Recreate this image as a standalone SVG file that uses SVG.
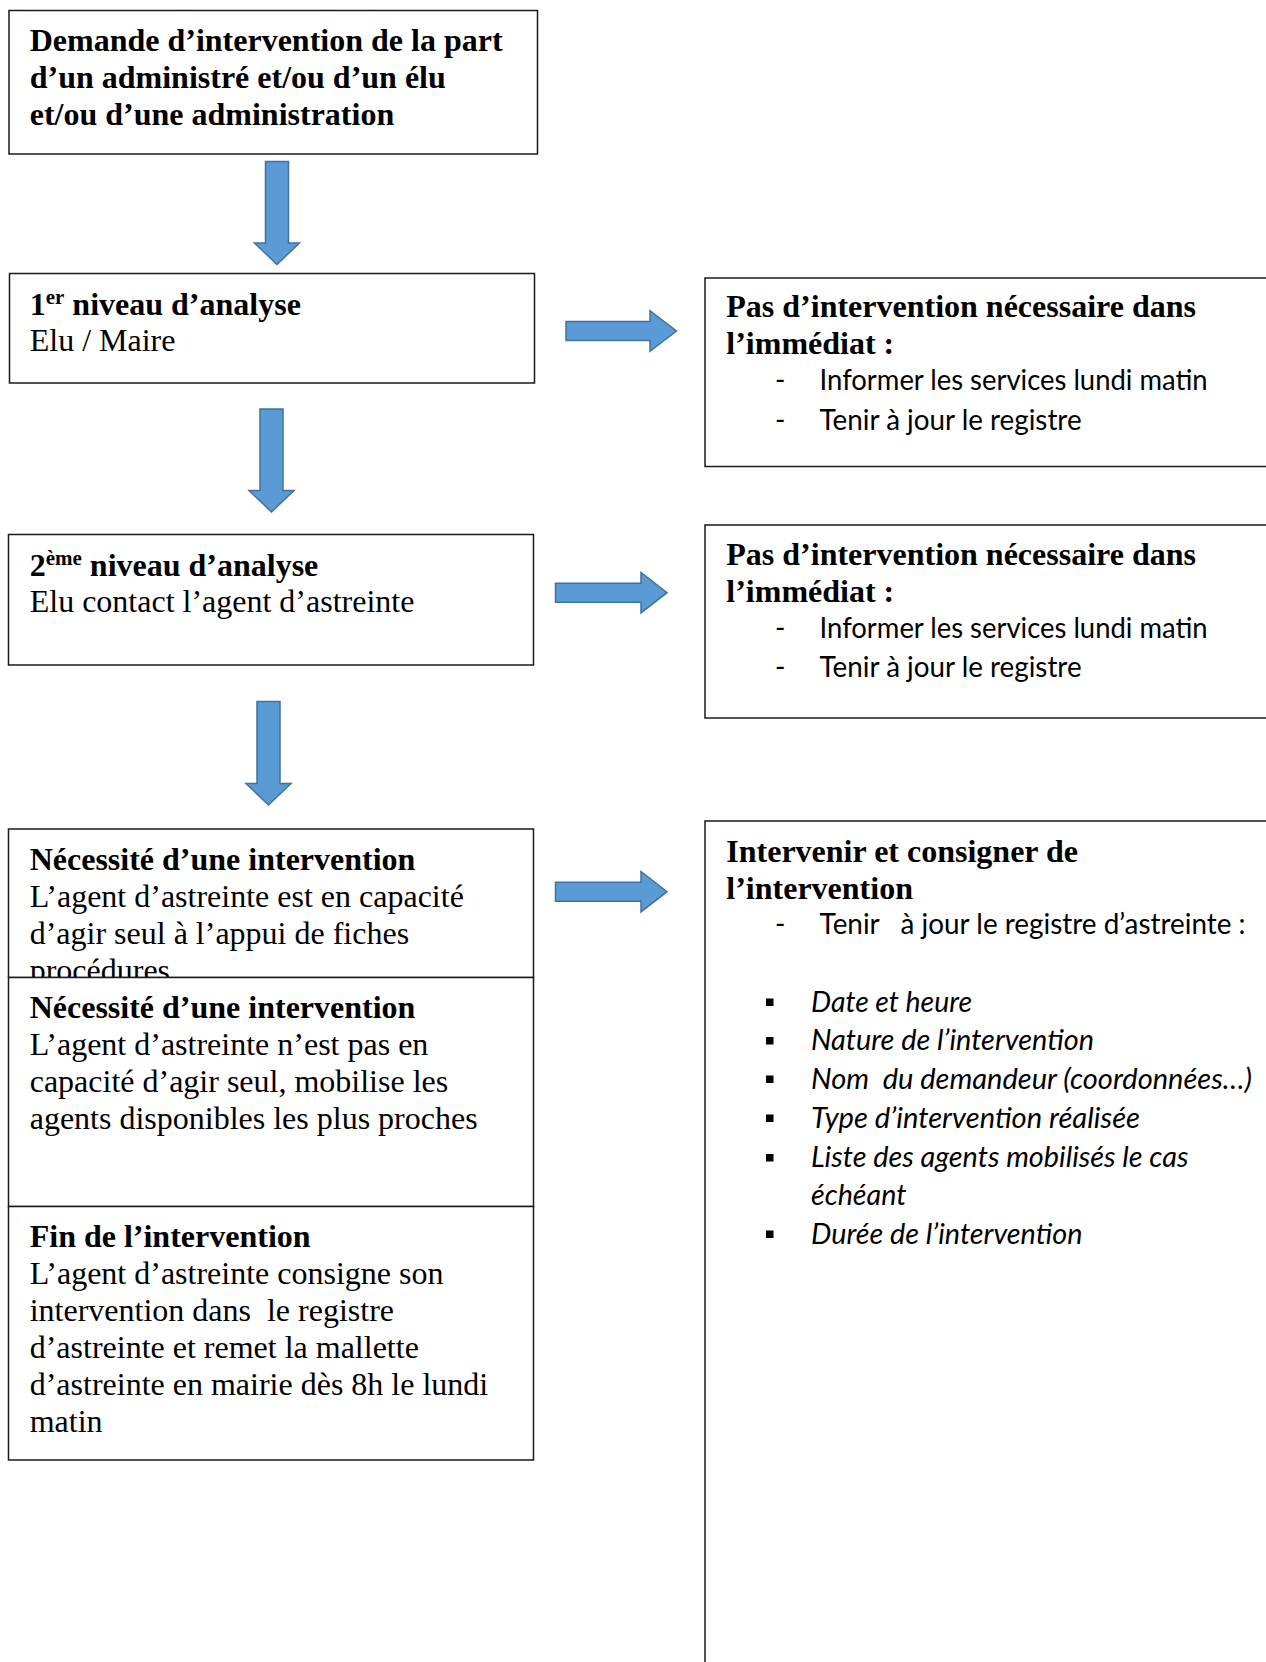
<svg xmlns="http://www.w3.org/2000/svg" width="1266" height="1662" viewBox="0 0 1266 1662">
<style>
.box{fill:#fff;stroke:#1a1a1a;stroke-width:1.5}
.arr{fill:#5B9BD5;stroke:#41719C;stroke-width:1.5;stroke-linejoin:miter}
.t{font-family:"Liberation Serif","Times New Roman",serif;font-size:32px;fill:#000}
.b{font-weight:bold}
.s{font-family:Lato,"Open Sans",sans-serif;font-size:28px;fill:#000}
.i{font-style:italic}
.sq{fill:#000}
</style>
<rect width="1266" height="1662" fill="#fff"/>
<g id="connectors">
<path class="arr" d="M265.5,161.5 H288.5 V243 H299.5 L277,264.5 L254.5,243 H265.5 Z"/>
<path class="arr" d="M260,409 H283 V490.5 H294 L271.5,512 L249,490.5 H260 Z"/>
<path class="arr" d="M257,701.5 H280 V783.5 H291 L268.5,805 L246,783.5 H257 Z"/>
<path class="arr" d="M566,321.5 H650 V310.7 L676.5,331 L650,351.3 V340.5 H566 Z"/>
<path class="arr" d="M555.5,583.2 H641 V572.5 L667,592.7 L641,612.9 V602.2 H555.5 Z"/>
<path class="arr" d="M555.5,882.2 H641 V871.5 L667,891.7 L641,911.9 V901.2 H555.5 Z"/>
</g>
<g id="n1">
<rect class="box" x="9" y="10.5" width="528.5" height="143.5"/>
<text class="t b" x="29.7" y="50.5">Demande d’intervention de la part</text>
<text class="t b" x="29.7" y="87.5">d’un administré et/ou d’un élu</text>
<text class="t b" x="29.7" y="124.5">et/ou d’une administration</text>
</g>
<g id="n2">
<rect class="box" x="9.5" y="273.5" width="525" height="109.5"/>
<text class="t b" x="29.7" y="314.5">1<tspan font-size="21" dy="-11">er</tspan><tspan dy="11"> niveau d’analyse</tspan></text>
<text class="t" x="29.7" y="351">Elu / Maire</text>
</g>
<g id="n3">
<rect class="box" x="8.5" y="534.5" width="525" height="130.5"/>
<text class="t b" x="29.7" y="575.5">2<tspan font-size="21" dy="-11">ème</tspan><tspan dy="11"> niveau d’analyse</tspan></text>
<text class="t" x="29.7" y="612">Elu contact l’agent d’astreinte</text>
</g>
<g id="n4">
<rect class="box" x="8.5" y="829" width="525" height="148.5"/>
<text class="t b" x="29.7" y="869.5">Nécessité d’une intervention</text>
<text class="t" x="29.7" y="906.5">L’agent d’astreinte est en capacité</text>
<text class="t" x="29.7" y="943.5">d’agir seul à l’appui de fiches</text>
<text class="t" x="29.7" y="981">procédures</text>
</g>
<g id="n5">
<rect class="box" x="8.5" y="977.5" width="525" height="229"/>
<text class="t b" x="29.7" y="1018">Nécessité d’une intervention</text>
<text class="t" x="29.7" y="1055">L’agent d’astreinte n’est pas en</text>
<text class="t" x="29.7" y="1092">capacité d’agir seul, mobilise les</text>
<text class="t" x="29.7" y="1129">agents disponibles les plus proches</text>
</g>
<g id="n6">
<rect class="box" x="8.5" y="1206.5" width="525" height="253.5"/>
<text class="t b" x="29.7" y="1247">Fin de l’intervention</text>
<text class="t" x="29.7" y="1284">L’agent d’astreinte consigne son</text>
<text class="t" x="29.7" y="1321" xml:space="preserve">intervention dans  le registre</text>
<text class="t" x="29.7" y="1358">d’astreinte et remet la mallette</text>
<text class="t" x="29.7" y="1395">d’astreinte en mairie dès 8h le lundi</text>
<text class="t" x="29.7" y="1432">matin</text>
</g>
<g id="r1">
<rect class="box" x="705" y="278" width="600" height="188.5"/>
<text class="t b" x="726.3" y="317">Pas d’intervention nécessaire dans</text>
<text class="t b" x="726.3" y="354">l’immédiat :</text>
<text class="s" x="775" y="390">-</text>
<text class="s" x="819.6" y="390" textLength="388" lengthAdjust="spacingAndGlyphs">Informer les services lundi matin</text>
<text class="s" x="775" y="429.5">-</text>
<text class="s" x="819.6" y="429.5" textLength="262" lengthAdjust="spacingAndGlyphs">Tenir à jour le registre</text>
</g>
<g id="r2">
<rect class="box" x="705" y="525" width="600" height="193"/>
<text class="t b" x="726.3" y="564.5">Pas d’intervention nécessaire dans</text>
<text class="t b" x="726.3" y="601.5">l’immédiat :</text>
<text class="s" x="775" y="638">-</text>
<text class="s" x="819.6" y="638" textLength="388" lengthAdjust="spacingAndGlyphs">Informer les services lundi matin</text>
<text class="s" x="775" y="677">-</text>
<text class="s" x="819.6" y="677" textLength="262" lengthAdjust="spacingAndGlyphs">Tenir à jour le registre</text>
</g>
<g id="r3">
<rect class="box" x="705" y="821" width="600" height="900"/>
<text class="t b" x="726.3" y="861.5">Intervenir et consigner de</text>
<text class="t b" x="726.3" y="898.5">l’intervention</text>
<text class="s" x="775" y="934">-</text>
<text class="s" x="819.6" y="934" textLength="426" lengthAdjust="spacingAndGlyphs" xml:space="preserve">Tenir   à jour le registre d’astreinte :</text>
<rect class="sq" x="766" y="998.5" width="7.5" height="7.5"/>
<text class="s i" x="811" y="1011.5" textLength="161" lengthAdjust="spacingAndGlyphs">Date et heure</text>
<rect class="sq" x="766" y="1037" width="7.5" height="7.5"/>
<text class="s i" x="811" y="1050" textLength="283" lengthAdjust="spacingAndGlyphs">Nature de l’intervention</text>
<rect class="sq" x="766" y="1075.5" width="7.5" height="7.5"/>
<text class="s i" x="811" y="1088.5" textLength="441" lengthAdjust="spacingAndGlyphs" xml:space="preserve">Nom  du demandeur (coordonnées…)</text>
<rect class="sq" x="766" y="1114.5" width="7.5" height="7.5"/>
<text class="s i" x="811" y="1127.5" textLength="329" lengthAdjust="spacingAndGlyphs">Type d’intervention réalisée</text>
<rect class="sq" x="766" y="1154" width="7.5" height="7.5"/>
<text class="s i" x="811" y="1167" textLength="377.5" lengthAdjust="spacingAndGlyphs">Liste des agents mobilisés le cas</text>
<text class="s i" x="811" y="1204.5" textLength="95.4" lengthAdjust="spacingAndGlyphs">échéant</text>
<rect class="sq" x="766" y="1230.5" width="7.5" height="7.5"/>
<text class="s i" x="811" y="1243.5" textLength="271.4" lengthAdjust="spacingAndGlyphs">Durée de l’intervention</text>
</g>
</svg>
